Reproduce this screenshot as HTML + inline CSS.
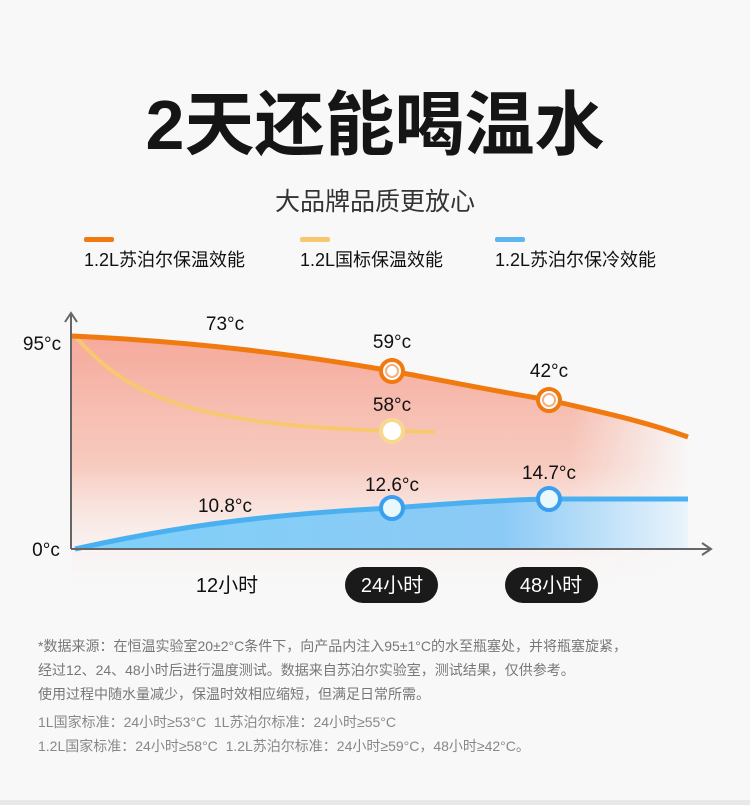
<!DOCTYPE html>
<html><head><meta charset="utf-8"><style>
body{margin:0;width:750px;height:805px;background:#f8f8f8;font-family:"Liberation Sans","Noto Sans CJK SC",sans-serif;position:relative;overflow:hidden;color:#111}
.t{position:absolute;white-space:nowrap}
</style></head><body>
<div class="t" style="left:0;width:750px;top:77px;text-align:center;font-size:70px;font-weight:bold;line-height:96px;color:#151515">2天还能喝温水</div>
<div class="t" style="left:0;width:750px;top:182px;text-align:center;font-size:25px;color:#333">大品牌品质更放心</div>
<div style="position:absolute;left:84px;top:237px;width:30px;height:5px;background:#f07a10;border-radius:2px"></div>
<div style="position:absolute;left:300px;top:237px;width:30px;height:5px;background:#f8c870;border-radius:2px"></div>
<div style="position:absolute;left:495px;top:237px;width:30px;height:5px;background:#5bb6f2;border-radius:2px"></div>
<div class="t" style="left:84px;top:246px;font-size:18px">1.2L苏泊尔保温效能</div>
<div class="t" style="left:300px;top:246px;font-size:18px">1.2L国标保温效能</div>
<div class="t" style="left:495px;top:246px;font-size:18px">1.2L苏泊尔保冷效能</div>
<svg width="750" height="805" style="position:absolute;left:0;top:0">
<defs>
<linearGradient id="r" x1="0" y1="0" x2="0" y2="1"><stop offset="0" stop-color="#f4a090" stop-opacity=".9"/><stop offset=".5" stop-color="#f7b8a8" stop-opacity=".7"/><stop offset="1" stop-color="#fff" stop-opacity="0"/></linearGradient>
<linearGradient id="fx" gradientUnits="userSpaceOnUse" x1="0" y1="0" x2="750" y2="0"><stop offset="0" stop-color="#fff"/><stop offset=".76" stop-color="#fff"/><stop offset=".92" stop-color="#000"/></linearGradient>
<mask id="m"><rect x="0" y="0" width="750" height="805" fill="url(#fx)"/></mask>
<linearGradient id="b" x1="0" y1="0" x2="1" y2="0"><stop offset="0" stop-color="#7fd0f8"/><stop offset=".7" stop-color="#8ccaf6"/><stop offset="1" stop-color="#eaf4fb"/></linearGradient>
</defs>
<path d="M72,336 C200,342 300,355 392,371 C450,382 500,392 549,400 C600,412 640,420 688,437 L720,450 L720,600 L72,600 Z" fill="url(#r)" mask="url(#m)"/>
<path d="M75,549 C160,530 250,515 392,508 C460,503 500,500 549,499 L688,499 L688,549 L75,549Z" fill="url(#b)"/>
<path d="M75,336 C130,400 200,425 392,431 L435,432" fill="none" stroke="#f8c870" stroke-width="4"/>
<path d="M72,336 C200,342 300,355 392,371 C450,382 500,392 549,400 C600,412 640,420 688,437" fill="none" stroke="#f07a10" stroke-width="5"/>
<path d="M75,549 C160,530 250,515 392,508 C460,503 500,500 549,499 L688,499" fill="none" stroke="#4ab0f0" stroke-width="5"/>
<path d="M71,549 V314 M65,322 L71,313 L77,322 M71,549 H710 M702,543 L711,549 L702,555" fill="none" stroke="#666" stroke-width="2"/>
<g stroke-width="4">
<circle cx="392" cy="371" r="11" fill="#fff" stroke="#f07a10"/><circle cx="392" cy="371" r="6" fill="#fff" stroke="#f5b080" stroke-width="2"/>
<circle cx="549" cy="400" r="11" fill="#fff" stroke="#f07a10"/><circle cx="549" cy="400" r="6" fill="#fff" stroke="#f5b080" stroke-width="2"/>
<circle cx="392" cy="431" r="11" fill="#fff" stroke="#f8d890"/>
<circle cx="392" cy="508" r="11" fill="#e8f8fb" stroke="#3a9ff0"/>
<circle cx="549" cy="499" r="11" fill="#e8f8fb" stroke="#3a9ff0"/>
</g>
<g font-size="19" fill="#111" text-anchor="middle">
<text x="225" y="330">73°c</text><text x="392" y="348">59°c</text><text x="549" y="377">42°c</text>
<text x="392" y="411">58°c</text><text x="392" y="491">12.6°c</text><text x="549" y="479">14.7°c</text>
<text x="225" y="512">10.8°c</text>
<text x="42" y="350">95°c</text><text x="46" y="556">0°c</text>
</g>
<rect x="345" y="567" width="93" height="36" rx="18" fill="#1a1a1a"/>
<rect x="505" y="567" width="93" height="36" rx="18" fill="#1a1a1a"/>
<g font-size="20" text-anchor="middle"><text x="227" y="592" fill="#111">12小时</text><text x="392" y="592" fill="#fff">24小时</text><text x="551" y="592" fill="#fff">48小时</text></g>
</svg>
<div class="t" style="left:38px;top:634px;font-size:14px;line-height:24px;color:#777">*数据来源：在恒温实验室20±2°C条件下，向产品内注入95±1°C的水至瓶塞处，并将瓶塞旋紧，<br>经过12、24、48小时后进行温度测试。数据来自苏泊尔实验室，测试结果，仅供参考。<br>使用过程中随水量减少，保温时效相应缩短，但满足日常所需。</div>
<div class="t" style="left:38px;top:710px;font-size:14px;line-height:24px;color:#888">1L国家标准：24小时≥53°C&nbsp; 1L苏泊尔标准：24小时≥55°C<br>1.2L国家标准：24小时≥58°C&nbsp; 1.2L苏泊尔标准：24小时≥59°C，48小时≥42°C。</div>
<div style="position:absolute;left:0;top:800px;width:750px;height:5px;background:#e8e8e8"></div>
</body></html>
